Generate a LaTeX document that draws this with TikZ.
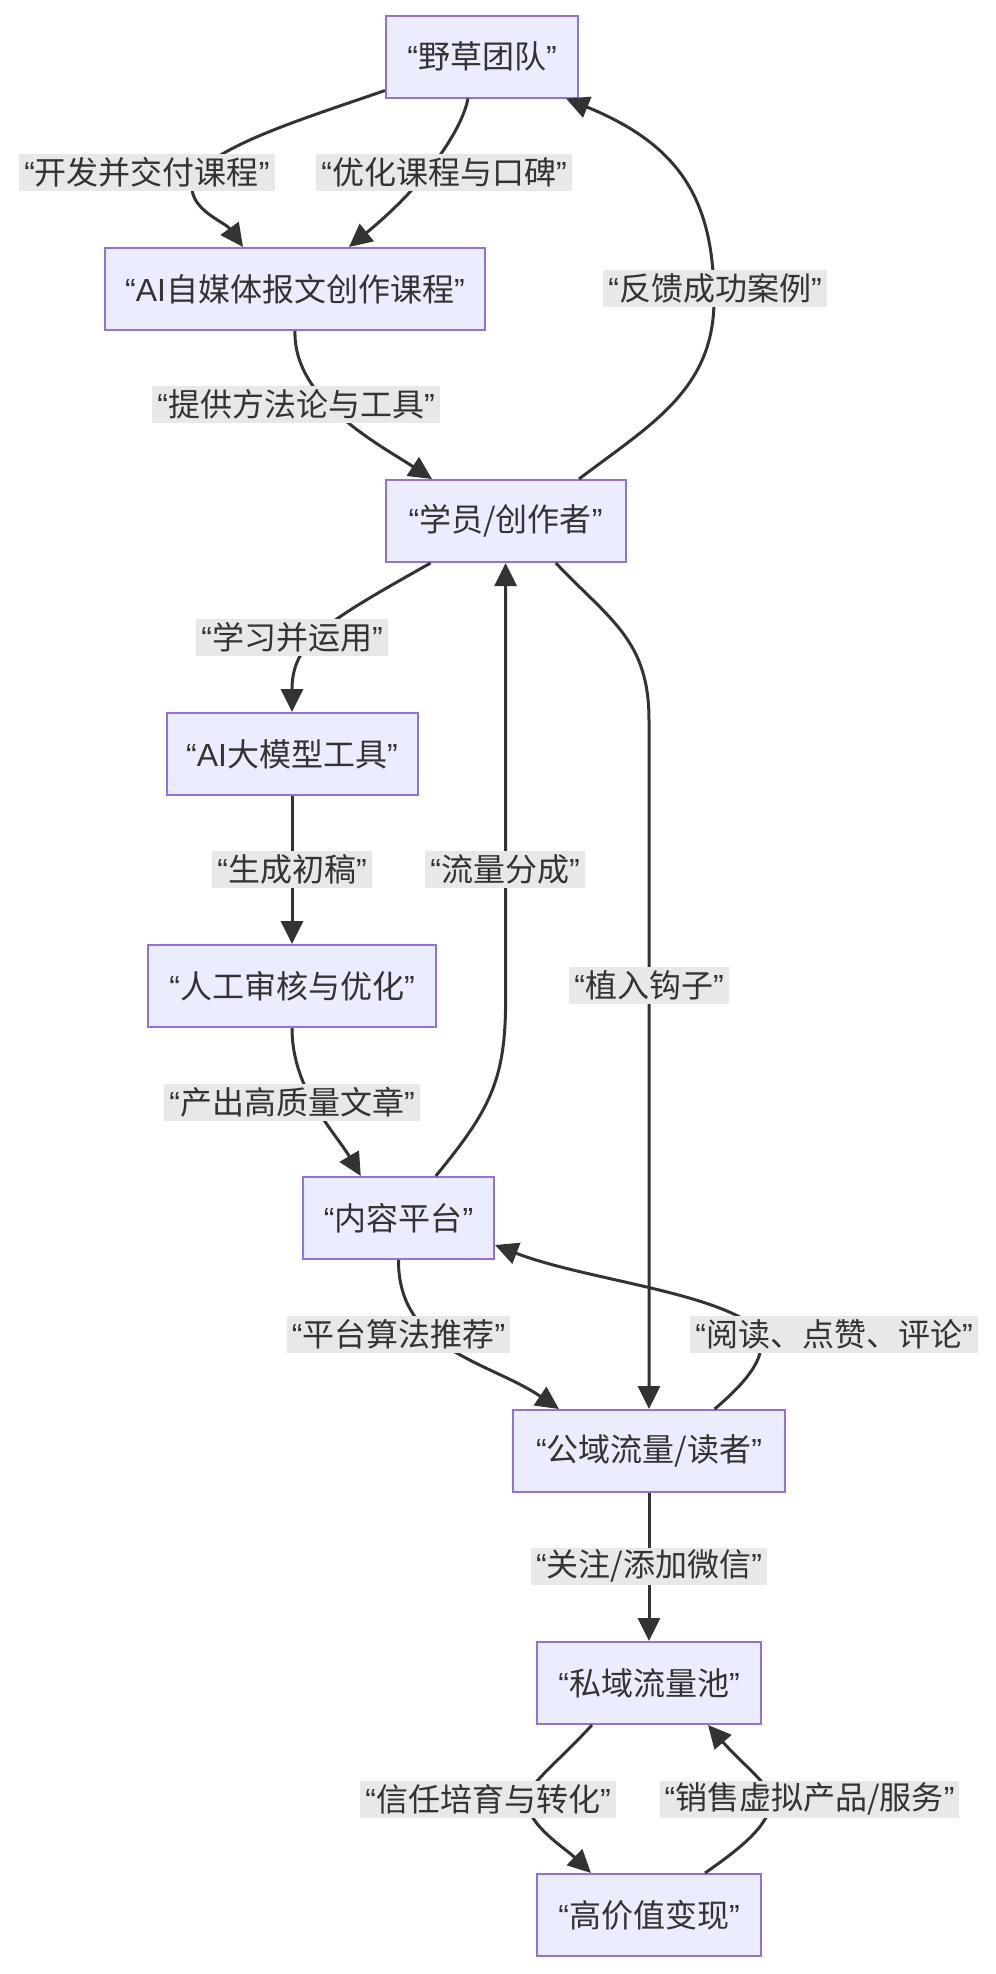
\documentclass[tikz,border=0pt]{standalone}
\usepackage{fontspec}
\setmainfont{Noto Sans CJK SC}
\newfontfamily\latf{Liberation Sans}
\usetikzlibrary{arrows.meta,calc}
\definecolor{boxfill}{HTML}{ECECFF}
\definecolor{boxline}{HTML}{9370DB}
\definecolor{ink}{HTML}{333333}
\definecolor{lblbg}{HTML}{E8E8E8}
\newcommand{\myq}[1]{{\latf “}#1{\latf ”}}
\begin{document}
\begin{tikzpicture}[x=1pt,y=-1pt,
  box/.style={draw=boxline,fill=boxfill,line width=2pt,minimum height=82pt,text=ink,font=\fontsize{32}{38}\selectfont,inner sep=0pt},
  lbl/.style={fill=lblbg,text=ink,font=\fontsize{32}{38}\selectfont,inner xsep=5pt,inner ysep=0pt,minimum height=37pt},
  conn/.style={draw=ink,line width=3pt,-{Triangle[length=23pt,width=22pt]}}]
\useasboundingbox (0,0) rectangle (996,1974);

% boxes
\node[box,minimum width=192pt] (yc) at (482,56.5) {\myq{野草团队}};
\node[box,minimum width=380pt] (ai) at (295,289) {\myq{{\latf AI}自媒体报文创作课程}};
\node[box,minimum width=240pt] (xy) at (505.6,521) {\myq{学员/创作者}};
\node[box,minimum width=251pt] (dm) at (292,754) {\myq{{\latf AI}大模型工具}};
\node[box,minimum width=288pt] (rg) at (292,986) {\myq{人工审核与优化}};
\node[box,minimum width=191pt] (nr) at (398.5,1218) {\myq{内容平台}};
\node[box,minimum width=272pt] (gy) at (649,1451) {\myq{公域流量/读者}};
\node[box,minimum width=224pt] (sy) at (649,1683) {\myq{私域流量池}};
\node[box,minimum width=224pt] (gj) at (649,1915) {\myq{高价值变现}};

% connectors
\draw[conn] ($(yc.south west)+(0,-8)$) .. controls (300,120) and (200,150) .. (192,185) .. controls (190,210) and (225,222) .. ($(ai.north)+(-52,0)$);
\draw[conn] ($(yc.south)+(-14,0)$) .. controls (462,130) and (425,185) .. ($(ai.north)+(54,0)$);
\draw[conn] ($(xy.north)+(73.4,0)$) .. controls (650,425) and (714,390) .. (714,300) .. controls (714,200) and (680,145) .. ($(yc.south east)+(-13,0)$);
\draw[conn] (ai.south) .. controls (293,400) and (380,445) .. ($(xy.north)+(-73.6,0)$);
\draw[conn] ($(xy.south)+(-75,0)$) .. controls (330,620) and (292,640) .. (dm.north);
\draw[conn] (dm) -- (rg);
\draw[conn] (rg.south) .. controls (292,1090) and (335,1132) .. ($(nr.north)+(-37.7,0)$);
\draw[conn] ($(nr.north)+(37.3,0)$) .. controls (490,1110) and (505.6,1080) .. (505.6,1000) -- (xy.south);
\draw[conn] ($(xy.south)+(50.2,0)$) .. controls (610,620) and (649,640) .. (649,720) -- (gy.north);
\draw[conn] (nr.south) .. controls (398,1350) and (490,1362) .. ($(gy.north)+(-90,0)$);
\draw[conn] ($(gy.north)+(65.6,0)$) .. controls (755,1375) and (775,1345) .. (750,1323) .. controls (700,1290) and (580,1278) .. ($(nr.east)+(0,27)$);
\draw[conn] (gy) -- (sy);
\draw[conn] ($(sy.south)+(-57,0)$) .. controls (555,1765) and (527,1785) .. (527,1800) .. controls (527,1825) and (565,1848) .. ($(gj.north)+(-58,0)$);
\draw[conn] ($(gj.north)+(56,0)$) .. controls (738,1850) and (771,1825) .. (771,1800) .. controls (771,1785) and (743,1765) .. ($(sy.south)+(59,0)$);

% labels
\node[lbl] (l1) at (147,172) {\myq{开发并交付课程}};
\node[lbl] (l2) at (444,172) {\myq{优化课程与口碑}};
\node[lbl] (l3) at (715,288) {\myq{反馈成功案例}};
\node[lbl] (l4) at (296,404) {\myq{提供方法论与工具}};
\node[lbl] (l5) at (292,637) {\myq{学习并运用}};
\node[lbl] (l6) at (292,869) {\myq{生成初稿}};
\node[lbl] (l7) at (505,869) {\myq{流量分成}};
\node[lbl] (l8) at (649,985) {\myq{植入钩子}};
\node[lbl] (l9) at (292,1102) {\myq{产出高质量文章}};
\node[lbl] (l10) at (398.5,1334) {\myq{平台算法推荐}};
\node[lbl] (l11) at (834,1334) {\myq{阅读、点赞、评论}};
\node[lbl] (l12) at (649,1566) {\myq{关注/添加微信}};
\node[lbl] (l13) at (488,1799) {\myq{信任培育与转化}};
\node[lbl] (l14) at (809.5,1799) {\myq{销售虚拟产品/服务}};
\end{tikzpicture}
\end{document}
